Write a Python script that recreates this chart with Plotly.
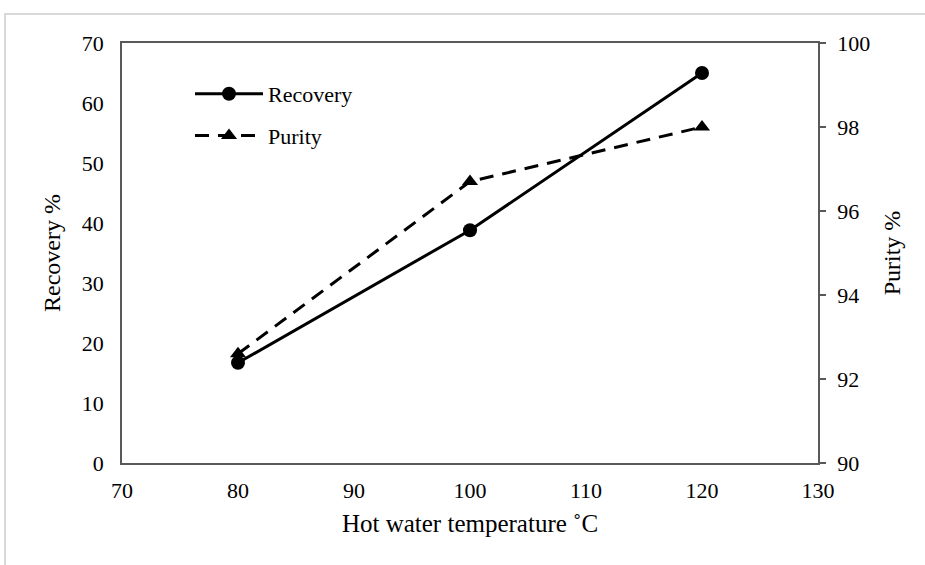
import plotly.graph_objects as go

temperature = [80, 100, 120]
recovery = [16.7, 38.8, 65.0]
purity = [92.6, 96.7, 98.0]

x_ticks = [70, 80, 90, 100, 110, 120, 130]
left_ticks = [0, 10, 20, 30, 40, 50, 60, 70]
right_ticks = [90, 92, 94, 96, 98, 100]

W, H = 925, 565
L, R, T, B = 122, 107, 43, 102
FONT = "Liberation Serif"
AXC = "#595959"

fig = go.Figure()
fig.add_trace(go.Scatter(
    x=temperature, y=recovery, name="Recovery", mode="lines+markers",
    legendgroup="a",
    line=dict(color="black", width=3),
    marker=dict(symbol="circle", size=14, color="black"),
    yaxis="y"))
fig.add_trace(go.Scatter(
    x=temperature, y=purity, name="Purity", mode="lines+markers",
    legendgroup="b",
    line=dict(color="black", width=3, dash="14px,9px"),
    marker=dict(symbol="triangle-up", size=14, color="black"),
    yaxis="y2"))

pw = W - L - R
ph = H - T - B
fig.add_shape(type="rect", xref="paper", yref="paper",
              x0=(5 - L) / pw, x1=(W + 20 - L) / pw,
              y0=-(B + 20) / ph, y1=1 + (T - 14) / ph,
              line=dict(color="#d9d9d9", width=2), layer="below")

fig.update_layout(
    width=W, height=H,
    margin=dict(l=L, r=R, t=T, b=B),
    paper_bgcolor="white", plot_bgcolor="white",
    font=dict(family=FONT, size=22, color="black"),
    showlegend=True,
    legend=dict(x=(190 - L) / pw, y=1 - (73 - T) / ph, xanchor="left", yanchor="top",
                bgcolor="rgba(0,0,0,0)", font=dict(family=FONT, size=22),
                itemwidth=68, traceorder="grouped", tracegroupgap=10),
    xaxis=dict(range=[70, 130], tickvals=x_ticks, ticks="", showgrid=False,
               zeroline=False, showline=True, linecolor=AXC, linewidth=1.5,
               mirror=True, ticklabelstandoff=7,
               title=dict(text="Hot water temperature ˚C", font=dict(size=25), standoff=12)),
    yaxis=dict(range=[0, 70], tickvals=left_ticks, ticks="", showgrid=False,
               zeroline=False, showline=True, linecolor=AXC, linewidth=1.5,
               ticklabelstandoff=12,
               title=dict(text="Recovery %", font=dict(size=24), standoff=14)),
    yaxis2=dict(range=[90, 100], tickvals=right_ticks, overlaying="y", side="right",
                ticks="outside", ticklen=6, tickcolor=AXC, tickwidth=1.5,
                ticklabelstandoff=7,
                showgrid=False, zeroline=False, showline=True, linecolor=AXC,
                linewidth=1.5, title=dict(text="Purity %", font=dict(size=24), standoff=14)),
)

fig.write_html("out.html")
